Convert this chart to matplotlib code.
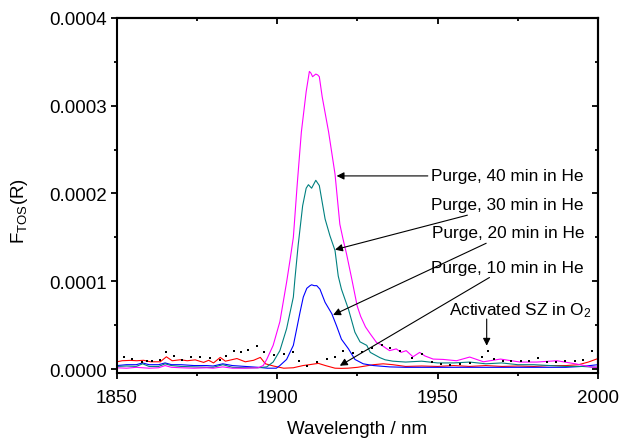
import numpy as np
import matplotlib
matplotlib.use("Agg")
import matplotlib.pyplot as plt
from matplotlib.ticker import MultipleLocator, FormatStrFormatter

plt.rcParams["font.family"] = ["Liberation Sans", "DejaVu Sans"]
plt.rcParams["mathtext.fontset"] = "custom"
plt.rcParams["mathtext.rm"] = "Liberation Sans"
plt.rcParams["mathtext.it"] = "Liberation Sans:italic"

# values, F(R) in units of 1e-6
wl_40 = [1850, 1853, 1856, 1858, 1860, 1863, 1865, 1867, 1870, 1874, 1878, 1880, 1883, 1886,
         1890, 1894, 1895.6, 1896.7, 1898.7, 1900.8, 1902.9, 1904, 1905, 1906.2, 1907.5, 1909,
         1910, 1910.5, 1911, 1912, 1912.6, 1913.1, 1914, 1916, 1918, 1919.5, 1920.5, 1921.6,
         1923.2, 1924.9, 1926, 1927.5, 1929, 1931, 1932, 1935, 1937.1, 1938.6, 1940.2, 1942.3,
         1944.4, 1946, 1948.6, 1951.7, 1955.9, 1960, 1964.3, 1969.6, 1975.7, 1980.9, 1987.2,
         1993.4, 1998, 2000]
f_40 = [1.5, 1.0, 2.0, 1.5, 1.0, 1.5, 4.0, 2.0, 1.5, 1.0, 1.5, 1.0, 2.5, 1.0,
        1.0, 1.5, 4, 11, 27, 54, 99, 125, 150, 210, 270, 316,
        339, 337, 333, 336, 335, 333, 310, 270, 222, 165, 148, 131,
        103, 72, 60, 48, 40, 30, 28.5, 21, 23, 19, 21, 14,
        19, 15, 11.4, 11, 9.5, 13.7, 8.3, 11.4, 8, 8, 9.5,
        5.7, 2.3, 2]

wl_30 = [1850, 1853, 1856, 1858, 1860, 1863, 1865, 1867, 1870, 1874, 1878, 1880, 1883, 1886,
         1890, 1894, 1896.7, 1898.7, 1900.8, 1902.9, 1905, 1905.5, 1906.5, 1907.9, 1909, 1909.7,
         1910.7, 1912, 1913.1, 1914.9, 1916.4, 1918, 1919, 1920, 1922.2, 1924.2, 1925.8, 1927.9,
         1929, 1932, 1933.6, 1936, 1940, 1945, 1950, 1955, 1960, 1965, 1970, 1975, 1980, 1985,
         1990, 1995, 2000]
f_30 = [3, 3.5, 3, 6, 3, 3, 6, 4, 3, 2.5, 2, 2, 5, 2,
        1.5, 1.5, 2.5, 8, 21, 46, 82, 103, 141, 186, 206, 210,
        206, 215, 209, 171, 152, 135, 106, 91, 68, 42, 31, 27,
        19, 13, 10.6, 9, 8, 9, 7, 7, 8, 6, 7, 5, 5, 4,
        3, 3, 2]

wl_20 = [1850, 1853, 1856, 1858, 1860, 1863, 1865, 1867, 1870, 1874, 1878, 1880, 1883, 1886,
         1890, 1894, 1897, 1899.7, 1900.8, 1902.9, 1905, 1906, 1907.1, 1908.1, 1909.2, 1910.2,
         1910.7, 1911.5, 1912.3, 1913.3, 1914.9, 1917, 1918.5, 1920, 1922.2, 1924.2, 1926.8,
         1930, 1935, 1940, 1950, 1960, 1970, 1980, 1990, 1995, 2000]
f_20 = [4, 5, 5, 7, 5, 5, 7, 5, 5, 4, 4, 3.5, 6, 4,
        3, 2, 1, 1, 4, 11, 27, 45, 65, 82, 92, 95,
        96, 95, 95, 91, 76, 63, 49, 34, 23, 11, 6,
        4, 2.5, 2, 2, 2, 2, 2, 2, 3, 5]

wl_10 = [1850, 1851.6, 1854.2, 1856.2, 1858.3, 1860.4, 1863.5, 1865.4, 1867.2, 1869.8, 1871.9,
         1874.4, 1877, 1878.6, 1880.1, 1882.2, 1883.8, 1887.4, 1890, 1892.6, 1894.7, 1896.3,
         1898.9, 1902, 1905, 1908, 1910, 1912.8, 1915, 1918, 1920, 1922, 1925, 1930, 1933, 1936,
         1940, 1945, 1950, 1955, 1960, 1965, 1970, 1975, 1980, 1985, 1990, 1994, 1997, 2000]
f_10 = [8.3, 9.5, 9.9, 9.5, 10, 8.3, 8.3, 14, 9.5, 10.6, 9.5,
        10.5, 7.6, 10, 7, 13.3, 9, 12, 8.3, 10, 13.3, 6,
        3.4, 1, 1.5, 4, 5, 6.5, 4, 1, 0.8, 1, 2, 5, 6, 5,
        3, 3.5, 3, 4, 3, 4, 3, 3.5, 3, 4, 4, 5, 8, 12]

wl_o2 = [1852.1, 1854.7, 1857.8, 1859.4, 1860.9, 1863.5, 1865.4, 1867.9, 1870.3, 1873.1, 1876,
         1879.1, 1882.2, 1884.1, 1886.6, 1888.7, 1891, 1893.7, 1895.9, 1898.9, 1902, 1904.8,
         1906.9, 1909.4, 1912.3, 1915.6, 1918, 1920.6, 1923.5, 1926.3, 1929.4, 1932.5, 1935.3,
         1938.3, 1941.9, 1945, 1948.1, 1951, 1954, 1957, 1960, 1963.7, 1965.6, 1967.5, 1970.3,
         1973, 1975.9, 1978.6, 1981.4, 1984, 1986.9, 1989.7, 1992.8, 1995.4, 1998]
f_o2 = [13.3, 11.4, 8.3, 9.5, 9.5, 10.6, 19.8, 15.2, 10.6, 14, 14,
        12.2, 10.6, 15.2, 20.9, 19.8, 21.7, 26.6, 19, 16, 16.7, 19,
        9, 4, 8, 11.4, 13.3, 20.9, 18.2, 19, 23.6, 27.4, 23.6,
        21, 12.2, 17.5, 7.6, 6, 5, 6, 7, 13.3, 20.9, 11.4, 9.5,
        9.5, 9.5, 9.5, 12.2, 8, 7.6, 9.5, 9.5, 10, 20.9]

labels = ["Purge, 40 min in He", "Purge, 30 min in He", "Purge, 20 min in He",
          "Purge, 10 min in He", "Activated SZ in O$_2$"]

fig = plt.figure(figsize=(6.19, 4.39), dpi=100)
ax = fig.add_axes([0.189, 0.148, 0.777, 0.809])

lw = 0.8
ax.plot(wl_10, np.array(f_10) * 1e-6, color="#ff0000", lw=lw)
ax.plot(wl_20, np.array(f_20) * 1e-6, color="#0000ff", lw=lw)
ax.plot(wl_30, np.array(f_30) * 1e-6, color="#008080", lw=lw)
ax.plot(wl_40, np.array(f_40) * 1e-6, color="#ff00ff", lw=lw)
ax.plot(wl_o2, np.array(f_o2) * 1e-6, ls="none", marker="s", ms=1.8, color="black", mew=0)

ax.set_xlim(1850, 2000)
ax.set_ylim(-0.0000045, 0.0004)
ax.xaxis.set_major_locator(MultipleLocator(50))
ax.xaxis.set_minor_locator(MultipleLocator(25))
ax.yaxis.set_major_locator(MultipleLocator(0.0001))
ax.yaxis.set_minor_locator(MultipleLocator(0.00005))
ax.yaxis.set_major_formatter(FormatStrFormatter("%.4f"))
ax.tick_params(which="both", direction="out", width=1.3, labelsize=13.5, pad=3)
ax.tick_params(axis="x", which="both", pad=7)
ax.tick_params(which="major", length=4.5)
ax.tick_params(which="minor", length=2.5)
for s in ax.spines.values():
    s.set_linewidth(1.5)

# mirrored ticks pointing inward on top and right
top = ax.secondary_xaxis("top")
top.xaxis.set_major_locator(MultipleLocator(50))
top.xaxis.set_minor_locator(MultipleLocator(25))
top.tick_params(which="both", direction="in", width=1.3, labeltop=False)
top.tick_params(which="major", length=4.5)
top.tick_params(which="minor", length=2.5)
top.spines["top"].set_linewidth(1.5)
right = ax.secondary_yaxis("right")
right.yaxis.set_major_locator(MultipleLocator(0.0001))
right.yaxis.set_minor_locator(MultipleLocator(0.00005))
right.tick_params(which="both", direction="in", width=1.3, labelright=False)
right.tick_params(which="major", length=4.5)
right.tick_params(which="minor", length=2.5)
right.spines["right"].set_linewidth(1.5)

ax.set_xlabel("Wavelength / nm", fontsize=13.5, labelpad=10)
ax.set_ylabel("F$_{\\mathrm{TOS}}$(R)", fontsize=13.5)
ax.yaxis.set_label_coords(-0.18, 0.46)

arr = dict(arrowstyle="-|>", color="black", lw=0.8, mutation_scale=11, shrinkA=0, shrinkB=0)
fs = 12.4
ax.annotate(labels[0], xy=(1918.5, 0.00022), xytext=(1947.8, 0.00022),
            fontsize=fs, va="center", ha="left", arrowprops=arr)
ax.annotate(labels[1], xy=(1918, 0.000136), xytext=(1947.8, 0.000187),
            fontsize=fs, va="center", ha="left", arrowprops=arr)
ax.annotate(labels[2], xy=(1917.4, 0.0000616), xytext=(1948.2, 0.000155),
            fontsize=fs, va="center", ha="left", arrowprops=arr)
ax.annotate(labels[3], xy=(1919.5, 0.0000038), xytext=(1947.8, 0.000116),
            fontsize=fs, va="center", ha="left", arrowprops=arr)
ax.text(1953.6, 0.0000675, labels[4], fontsize=fs, va="center", ha="left")
ax.annotate("", xy=(1965.3, 0.0000266), xytext=(1965.3, 0.0000570), arrowprops=arr)

fig.savefig("out.png", dpi=100)
